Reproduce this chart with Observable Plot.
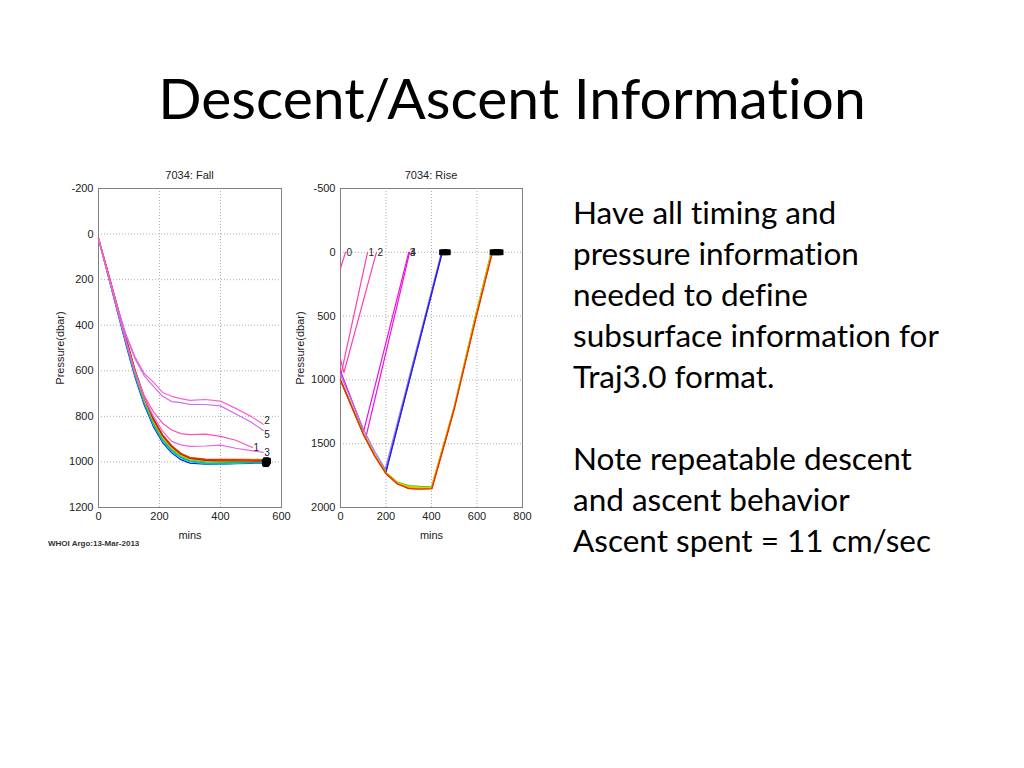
<!DOCTYPE html>
<html><head><meta charset="utf-8">
<script src="https://cdn.jsdelivr.net/npm/d3@7"></script>
<script src="https://cdn.jsdelivr.net/npm/@observablehq/plot@0.6"></script>
<style>
body{margin:0;background:#fff;width:1024px;height:768px;overflow:hidden;position:relative;}
.abs{position:absolute;}
#title{left:0;width:1024px;top:62px;text-align:center;font-family:Lato,"Open Sans",sans-serif;font-size:57px;line-height:70px;color:#000;font-variant-ligatures:none;font-feature-settings:"liga" 0;}
#body{left:573px;top:192px;font-family:Lato,"Open Sans",sans-serif;font-size:31.5px;line-height:41px;color:#000;white-space:nowrap;font-variant-ligatures:none;font-feature-settings:"liga" 0;}
.ctitle{font-family:"Liberation Sans",Arial,sans-serif;font-size:11px;color:#222;text-align:center;line-height:14px;}
#whoi{left:48px;top:539px;font-family:"Liberation Sans",Arial,sans-serif;font-size:8px;font-weight:bold;color:#333;}
</style></head><body>
<div id="title" class="abs">Descent/Ascent Information</div>
<div id="left" class="abs" style="left:40px;top:160px"></div>
<div id="right" class="abs" style="left:290px;top:160px"></div>
<div class="abs ctitle" style="left:98px;width:183px;top:168px">7034: Fall</div>
<div class="abs ctitle" style="left:340px;width:182px;top:168px">7034: Rise</div>
<div id="whoi" class="abs">WHOI Argo:13-Mar-2013</div>
<div id="body" class="abs">Have all timing and<br>pressure information<br>needed to define<br>subsurface information for<br>Traj3.0 format.<br><br>Note repeatable descent<br>and ascent behavior<br>Ascent spent = 11 cm/sec</div>
<script>
// ---------- Fall chart data ----------
const fallXTicks = [0, 200, 400, 600];
const fallYTicks = [-200, 0, 200, 400, 600, 800, 1000, 1200];
const fallT = [0, 30, 60, 90, 120, 150, 180, 210, 240, 270, 300, 350, 400, 450, 500, 545];
const fallIds    = ["6", "7", "8", "9", "10", "11", "12", "13", "14", "15"];
const fallColors = ["#1010ff", "#00c8ff", "#00b890", "#30c030", "#a0dc00", "#ffd800", "#ff9c00", "#ff6a00", "#ff2000", "#b03000"];
const fallP6  = [20, 175, 330, 485, 630, 750, 845, 915, 960, 990, 1005, 1010, 1010, 1008, 1006, 1005];
const fallP7  = [20, 172, 325, 478, 622, 742, 838, 908, 955, 985, 1000, 1008, 1010, 1006, 1004, 1004];
const fallP8  = [22, 170, 322, 474, 618, 738, 832, 902, 950, 980, 996, 1004, 1005, 1002, 1002, 1001];
const fallP9  = [20, 168, 318, 470, 612, 732, 826, 897, 945, 975, 992, 999, 1001, 1000, 999, 998];
const fallP10 = [22, 166, 316, 466, 608, 728, 822, 893, 940, 972, 990, 996, 998, 997, 996, 996];
const fallP11 = [20, 165, 313, 462, 604, 722, 816, 888, 935, 968, 986, 992, 994, 993, 993, 993];
const fallP12 = [21, 164, 310, 458, 600, 718, 812, 884, 932, 965, 983, 990, 991, 991, 990, 991];
const fallP13 = [20, 162, 308, 455, 596, 714, 808, 880, 928, 962, 980, 988, 989, 989, 989, 990];
const fallP14 = [20, 163, 309, 456, 598, 716, 810, 882, 930, 963, 982, 989, 990, 990, 992, 993];
const fallP15 = [20, 165, 312, 460, 602, 720, 815, 886, 934, 966, 985, 993, 995, 995, 996, 997];
// outliers (magenta) with their labels
const fallOutT  = [0, 30, 60, 90, 120, 150, 180, 210, 240, 270, 300, 350, 400, 450, 500, 540];
const fallOut2  = [20, 170, 310, 440, 540, 612, 650, 695, 712, 722, 730, 726, 733, 765, 800, 835];
const fallOut5  = [20, 170, 312, 445, 548, 622, 668, 712, 735, 740, 748, 748, 754, 790, 825, 862];
const fallOut1T = [0, 30, 60, 90, 120, 150, 180, 210, 240, 270, 300, 350, 400, 450, 505];
const fallOut1  = [20, 170, 320, 470, 605, 710, 780, 830, 860, 876, 880, 878, 888, 905, 937];
const fallOut3  = [20, 168, 318, 468, 606, 720, 800, 865, 910, 925, 932, 930, 926, 940, 950, 958];
const fallOutColors = {"2": "#ff60c8", "5": "#c070f0", "1": "#ff50b8", "3": "#f060e0"};
const fallLabelDy = {"2": -4, "5": 4, "1": 0, "3": 0};
// end-of-descent markers (black)
const fallEndT = [545, 548, 552, 555, 547, 550, 553, 556, 549, 551, 554, 546];
const fallEndP = [1000, 995, 1005, 998, 1008, 992, 1002, 996, 1010, 1000, 994, 1004];

// ---------- Rise chart data ----------
const riseXTicks = [0, 200, 400, 600, 800];
const riseYTicks = [-500, 0, 500, 1000, 1500, 2000];
const riseLines = [
  {id: "0", color: "#ff40b0", t: [0, 22], p: [125, 0]},
  {id: "1", color: "#ff40b0", t: [0, 119], p: [975, 0]},
  {id: "2", color: "#ff40b0", t: [0, 15, 158], p: [838, 942, 0]},
  {id: "3", color: "#ee10e0", t: [0, 102, 300], p: [930, 1400, 0]},
  {id: "4", color: "#ee10e0", t: [0, 50, 110, 304], p: [1000, 1215, 1460, 0]},
  {id: "5", color: "#a070ff", t: [0, 50, 100, 150, 197, 444], p: [960, 1170, 1385, 1560, 1700, 0]},
  {id: "6", color: "#3030ff", t: [0, 50, 100, 150, 200, 446], p: [1000, 1210, 1420, 1590, 1725, 0]},
  {id: "7", color: "#2020e0", t: [0, 50, 100, 150, 199, 448], p: [1005, 1212, 1422, 1592, 1722, 0]},
  {id: "8", color: "#40d000", t: [0, 50, 100, 150, 200, 250, 300, 350, 400, 470, 500, 590, 662], p: [1000, 1205, 1415, 1585, 1725, 1800, 1828, 1835, 1838, 1400, 1210, 520, 0]},
  {id: "9", color: "#90e000", t: [0, 50, 100, 150, 200, 250, 300, 350, 400, 470, 500, 590, 664], p: [1000, 1208, 1418, 1588, 1728, 1805, 1835, 1840, 1842, 1402, 1212, 522, 0]},
  {id: "10", color: "#e8d800", t: [0, 50, 100, 150, 200, 250, 300, 350, 400, 470, 500, 591, 665], p: [1000, 1210, 1420, 1590, 1730, 1808, 1840, 1845, 1846, 1405, 1214, 524, 0]},
  {id: "11", color: "#ffa000", t: [0, 50, 100, 150, 200, 250, 300, 350, 400, 470, 500, 592, 666], p: [1000, 1210, 1421, 1592, 1731, 1810, 1845, 1850, 1850, 1408, 1215, 525, 0]},
  {id: "12", color: "#ff6000", t: [0, 50, 100, 150, 200, 250, 300, 350, 401, 471, 501, 593, 667], p: [1000, 1212, 1424, 1594, 1734, 1814, 1850, 1855, 1852, 1410, 1216, 526, 0]},
  {id: "13", color: "#e83000", t: [0, 50, 100, 150, 200, 250, 300, 350, 402, 472, 502, 594, 668], p: [1000, 1213, 1425, 1596, 1736, 1816, 1852, 1857, 1853, 1412, 1218, 528, 0]}
];
const riseLabelIds = ["0", "1", "2", "3", "4"];
const riseLabelT   = [22, 119, 158, 300, 302];
const riseEndT = [446, 452, 458, 466, 472, 668, 674, 680, 686, 692, 698, 704];

// ---------- build rows ----------
const fallSeries = [fallP6, fallP7, fallP8, fallP9, fallP10, fallP11, fallP12, fallP13, fallP14, fallP15];
const fallRows = [];
fallSeries.forEach((arr, i) => arr.forEach((p, j) => fallRows.push({id: fallIds[i], color: fallColors[i], t: fallT[j], p})));
const fallOut = [
  {id: "2", t: fallOutT, p: fallOut2},
  {id: "5", t: fallOutT, p: fallOut5},
  {id: "1", t: fallOut1T, p: fallOut1},
  {id: "3", t: fallOutT, p: fallOut3}
];
fallOut.forEach(s => s.p.forEach((p, j) => fallRows.push({id: "o" + s.id, color: fallOutColors[s.id], t: s.t[j], p})));
const fallLabels = fallOut.map(s => ({id: s.id, t: s.t[s.t.length - 1], p: s.p[s.p.length - 1]}));
const fallEnds = fallEndT.map((t, i) => ({t, p: fallEndP[i]}));

const riseRows = [];
riseLines.forEach(s => s.p.forEach((p, j) => riseRows.push({id: s.id, color: s.color, t: s.t[j], p})));
const riseLabels = riseLabelIds.map((id, i) => ({id, t: riseLabelT[i], p: 0}));
const riseEnds = riseEndT.map(t => ({t, p: 0}));

const fmt = d => String(d);

function chart({xTicks, yTicks, ml, mr, yLabelOffset, rows, extra}) {
  return Plot.plot({
    width: 250, height: 400,
    marginLeft: ml, marginRight: mr, marginTop: 28, marginBottom: 53,
    style: {fontFamily: "'Liberation Sans', Arial, sans-serif", fontSize: "11px", color: "#222", background: "transparent", overflow: "visible"},
    x: {domain: [xTicks[0], xTicks[xTicks.length - 1]]},
    y: {domain: [yTicks[0], yTicks[yTicks.length - 1]], reverse: true},
    color: {type: "identity"},
    marks: [
      Plot.gridX(xTicks, {stroke: "#777", strokeOpacity: 0.6, strokeDasharray: "1,2"}),
      Plot.gridY(yTicks, {stroke: "#777", strokeOpacity: 0.6, strokeDasharray: "1,2"}),
      Plot.axisX(xTicks, {tickSize: 0, tickPadding: 5, tickFormat: fmt, label: "mins", labelAnchor: "center", labelArrow: "none", labelOffset: 31, fontSize: 11}),
      Plot.axisY(yTicks, {tickSize: 0, tickPadding: 5, tickFormat: fmt, label: "Pressure(dbar)", labelAnchor: "center", labelArrow: "none", labelOffset: yLabelOffset, fontSize: 11}),
      Plot.frame({stroke: "#808080"}),
      Plot.line(rows, {x: "t", y: "p", z: "id", stroke: "color", strokeWidth: 1.2, curve: "linear"}),
      ...extra
    ]
  });
}

const fallLabelMarks = fallLabels.map(d =>
  Plot.text([d], {x: "t", y: "p", text: "id", textAnchor: "start", dx: 1, dy: fallLabelDy[d.id], fontSize: 10, fill: "#222"}));

document.getElementById("left").appendChild(chart({
  xTicks: fallXTicks, yTicks: fallYTicks, ml: 58, mr: 9, yLabelOffset: 42, rows: fallRows,
  extra: [
    ...fallLabelMarks,
    Plot.dot(fallEnds, {x: "t", y: "p", symbol: "square", r: 3.2, fill: "#000"})
  ]
}));

document.getElementById("right").appendChild(chart({
  xTicks: riseXTicks, yTicks: riseYTicks, ml: 50, mr: 18, yLabelOffset: 44, rows: riseRows,
  extra: [
    Plot.text(riseLabels, {x: "t", y: "p", text: "id", textAnchor: "start", dx: 1, fontSize: 10, fill: "#222"}),
    Plot.dot(riseEnds, {x: "t", y: "p", symbol: "square", r: 3.2, fill: "#000"})
  ]
}));
</script>
</body></html>
